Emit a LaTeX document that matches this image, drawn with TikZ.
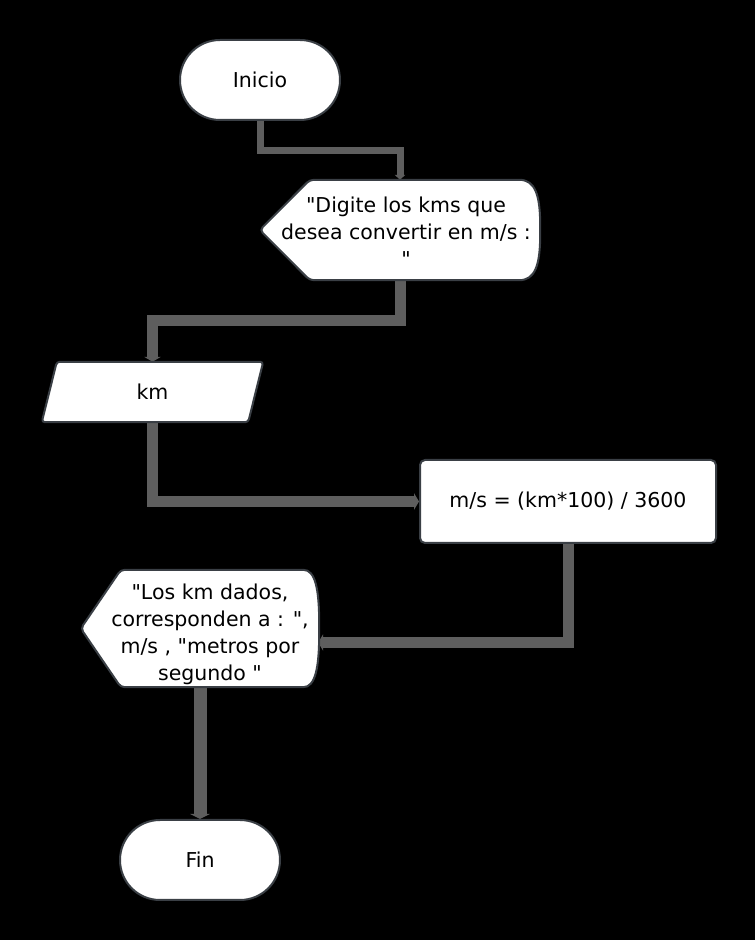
\documentclass[tikz,border=0pt]{standalone}
\usepackage{fontspec}
\setmainfont{DejaVu Sans}[Ligatures=TeXOff]
\usetikzlibrary{arrows.meta,calc}
\definecolor{connc}{HTML}{5E5E5E}
\definecolor{nodeline}{HTML}{3A3F45}
\pgfdeclarelayer{bgzero}
\pgfdeclarelayer{connlayer}
\pgfdeclarelayer{shapelayer}
\pgfsetlayers{bgzero,connlayer,shapelayer,main}
\begin{document}
\begin{tikzpicture}[x=1pt,y=1pt,
  every node/.style={font=\fontsize{20.5}{27}\selectfont, text=black, inner sep=0pt},
  box/.style={draw=none, fill=none},
  outline/.style={draw=nodeline, fill=white, line width=2pt},
  conn/.style={draw=connc, line width=#1, -{Triangle[length=5pt, width=0pt 1.5]}},
  txt/.style={align=center}
]
\begin{pgfonlayer}{bgzero}
\fill[black] (0,0) rectangle (755,940);
\end{pgfonlayer}
\useasboundingbox (0,0) rectangle (755,940);

% terminals and process
\node[outline, rounded corners=40pt, minimum width=160pt, minimum height=80pt] (ini) at (260,860) {Inicio};
\node[outline, rounded corners=5pt, minimum width=296pt, minimum height=83pt] (proc) at (568,438.5) {m/s = (km*100) / 3600};
\node[outline, rounded corners=40pt, minimum width=160pt, minimum height=80pt] (fin) at (200,80) {Fin};

% display 1
\node[box, minimum width=280pt, minimum height=100pt] (d1) at (400,710) {};
\node[txt] (d1t) at (406,708) {"Digite los kms que\\desea convertir en m/s :\\"};

% input
\node[box, minimum width=221pt, minimum height=60pt] (km) at (152.5,548) {km};

% display 2
\node[box, minimum width=238pt, minimum height=117pt] (d2) at (200,311.5) {};
\node[txt] (d2t) at (210,306) {"Los km dados,\\corresponden a : ",\\m/s , "metros por\\segundo "};
\coordinate (d2r) at ($(d2.east)+(-1,-14)$);

\begin{pgfonlayer}{shapelayer}
\draw[outline, rounded corners=4pt] (d1.west) -- ($(d1.north west)+(50,0)$) -- ($(d1.north east)+(-25,0)$)
  .. controls ($(d1.north east)+(-5,0)$) and ($(d1.east)+(0,35)$) .. (d1.east)
  .. controls ($(d1.east)+(0,-35)$) and ($(d1.south east)+(-5,0)$) .. ($(d1.south east)+(-25,0)$)
  -- ($(d1.south west)+(50,0)$) -- cycle;
\draw[outline, rounded corners=3pt] (km.south west) -- ($(km.north west)+(15,0)$) -- (km.north east) -- ($(km.south east)+(-15,0)$) -- cycle;
\draw[outline, rounded corners=4pt] (d2.west) -- ($(d2.north west)+(40,0)$) -- ($(d2.north east)+(-20,0)$)
  .. controls ($(d2.north east)+(-4,0)$) and ($(d2.east)+(0,40)$) .. (d2.east)
  .. controls ($(d2.east)+(0,-40)$) and ($(d2.south east)+(-4,0)$) .. ($(d2.south east)+(-20,0)$)
  -- ($(d2.south west)+(40,0)$) -- cycle;
\end{pgfonlayer}

\begin{pgfonlayer}{connlayer}
\draw[conn=7pt] (ini.south) -- ++(0,-30) -| (d1.north);
\draw[conn=11pt] (d1.south) -- ++(0,-40) -| (km.north);
\draw[conn=11pt] (km.south) |- (proc.west);
\draw[conn=11pt] (proc.south) |- (d2r);
\draw[conn=13pt] (d2.south) -- (fin.north);
\end{pgfonlayer}
\end{tikzpicture}
\end{document}
